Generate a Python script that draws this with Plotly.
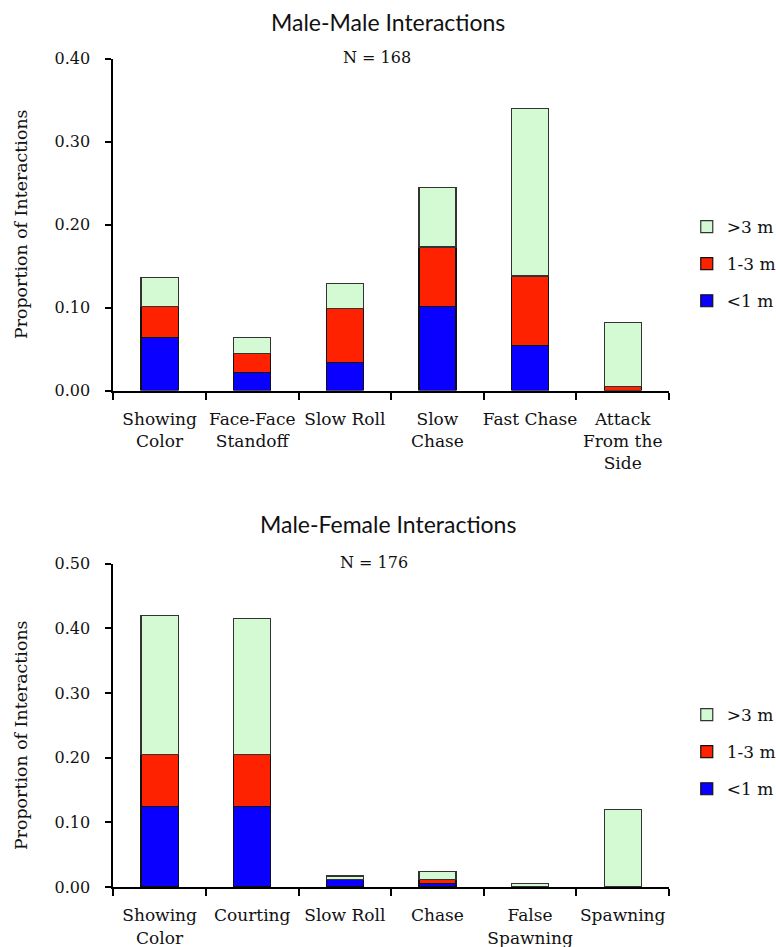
import plotly.graph_objects as go

# ---- data ----
mm_categories = ["Showing<br>Color", "Face-Face<br>Standoff", "Slow Roll", "Slow<br>Chase", "Fast Chase", "Attack<br>From the<br>Side"]
mm_lt1 = [0.064, 0.022, 0.034, 0.101, 0.054, 0.0]
mm_1to3 = [0.037, 0.023, 0.065, 0.072, 0.084, 0.005]
mm_gt3 = [0.035, 0.019, 0.030, 0.072, 0.202, 0.077]

mf_categories = ["Showing<br>Color", "Courting", "Slow Roll", "Chase", "False<br>Spawning", "Spawning"]
mf_lt1 = [0.125, 0.125, 0.011, 0.006, 0.0, 0.0]
mf_1to3 = [0.080, 0.080, 0.0, 0.006, 0.0, 0.0]
mf_gt3 = [0.215, 0.210, 0.006, 0.012, 0.006, 0.120]

series_names = ["<1 m", "1-3 m", ">3 m"]
series_colors = ["#0A00FF", "#FF2200", "#D4FAD4"]
series_lines = ["#111111", "#111111", "#333333"]
series_ranks = [3, 2, 1]

SERIF = "DejaVu Serif"
W, H = 776, 947

fig = go.Figure()

def add_chart(cats, vals, xa, ya, legend, grp):
    for i, (name, v) in enumerate(zip(series_names, vals)):
        fig.add_trace(go.Bar(
            x=cats, y=v, name=name, xaxis=xa, yaxis=ya, legend=legend,
            legendgroup=grp + str(i), legendrank=series_ranks[i],
            marker=dict(color=series_colors[i], line=dict(color=series_lines[i], width=1.2)),
        ))

add_chart(mm_categories, [mm_lt1, mm_1to3, mm_gt3], "x", "y", "legend", "a")
add_chart(mf_categories, [mf_lt1, mf_1to3, mf_gt3], "x2", "y2", "legend2", "b")

xdom = [113.3 / W, 669 / W]
top_dom = [1 - 390.5 / H, 1 - 58.5 / H]
bot_dom = [1 - 887 / H, 1 - 563.7 / H]

xcommon = dict(domain=xdom, showline=True, linecolor="black", linewidth=2, automargin=False,
               ticks="outside", tickson="boundaries", ticklen=7, tickwidth=2, tickcolor="black",
               tickangle=0, ticklabelstandoff=12,
               tickfont=dict(family=SERIF, size=17, color="#111"), showgrid=False, zeroline=False)
ycommon = dict(showline=True, linecolor="black", linewidth=2, ticks="outside", ticklen=6,
               automargin=False,
               tickwidth=2, tickcolor="black", tickformat=".2f", ticklabelstandoff=12,
               tickfont=dict(family=SERIF, size=16, color="#111"), showgrid=False, zeroline=False)

legcommon = dict(font=dict(family=SERIF, size=17, color="#111"), traceorder="grouped",
                 tracegroupgap=12, bgcolor="rgba(0,0,0,0)", itemwidth=30, xanchor="left", yanchor="middle")

fig.update_layout(
    width=W, height=H, margin=dict(l=0, r=0, t=0, b=0, autoexpand=False),
    plot_bgcolor="white", paper_bgcolor="white",
    barmode="stack", bargap=0.6,
    xaxis=dict(**xcommon, anchor="y"),
    yaxis=dict(**ycommon, domain=top_dom, range=[0, 0.40], dtick=0.1, anchor="x"),
    xaxis2=dict(**xcommon, anchor="y2"),
    yaxis2=dict(**ycommon, domain=bot_dom, range=[0, 0.50], dtick=0.1, anchor="x2"),
    legend=dict(**legcommon, x=0.885, y=1 - 264 / H),
    legend2=dict(**legcommon, x=0.885, y=1 - 752 / H),
    showlegend=True,
)

ann = [
    dict(text="Male-Male Interactions", x=388 / W, y=1 - 22 / H, font=dict(family="Lato", size=23, color="#111")),
    dict(text="N = 168", x=377 / W, y=1 - 57 / H, font=dict(family=SERIF, size=16, color="#111")),
    dict(text="Male-Female Interactions", x=388 / W, y=1 - 524 / H, font=dict(family="Lato", size=23, color="#111")),
    dict(text="N = 176", x=374 / W, y=1 - 562 / H, font=dict(family=SERIF, size=16, color="#111")),
    dict(text="Proportion of Interactions", x=21 / W, y=1 - 224 / H, textangle=-90, font=dict(family=SERIF, size=17.4, color="#111")),
    dict(text="Proportion of Interactions", x=21 / W, y=1 - 735 / H, textangle=-90, font=dict(family=SERIF, size=17.4, color="#111")),
]
for a in ann:
    fig.add_annotation(xref="paper", yref="paper", showarrow=False, xanchor="center", yanchor="middle", **a)

fig.write_html("out.html", config={"displayModeBar": False},
               post_script="document.body.style.margin='0';document.body.style.overflow='hidden';")
